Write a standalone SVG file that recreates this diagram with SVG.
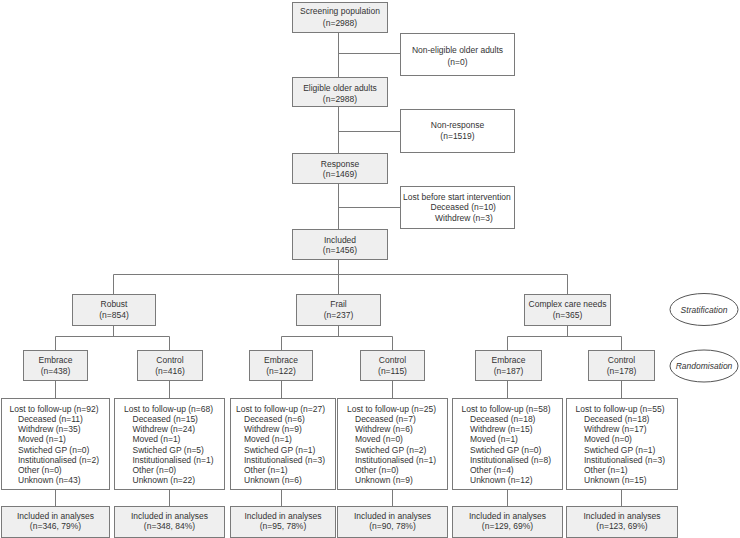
<svg xmlns="http://www.w3.org/2000/svg" width="740" height="538" viewBox="0 0 740 538">
<style>
.g{fill:#efefef;stroke:#7a7a7a;stroke-width:1}
.w{fill:#ffffff;stroke:#7a7a7a;stroke-width:1}
.c{fill:none;stroke:#7a7a7a;stroke-width:1}
.e{fill:#ffffff;stroke:#555555;stroke-width:1}
text{font-family:"Liberation Sans",Arial,sans-serif;font-size:8.5px;fill:#333333}
.m{text-anchor:middle}
.i{font-style:italic}
</style>
<rect width="740" height="538" fill="#ffffff"/>
<g id="connectors">
<path class="c" d="M338.5 32V294M338.5 53.5H400M338.5 131.5H400M338.5 207.5H400"/>
<path class="c" d="M113.5 274.5H567.5M113.5 274.5V294M567.5 274.5V294"/>
<path class="c" d="M113.5 325V336.5M55.5 336.5H169.5M55.5 336.5V350M169.5 336.5V350"/>
<path class="c" d="M338.5 325V336.5M281.5 336.5H392.5M281.5 336.5V350M392.5 336.5V350"/>
<path class="c" d="M567.5 325V336.5M507.5 336.5H621.5M507.5 336.5V350M621.5 336.5V350"/>
<path class="c" d="M55.5 380V398M169.5 380V398M281.5 380V398M392.5 380V398M507.5 380V398M621.5 380V398"/>
<path class="c" d="M55.5 489V506M169.5 489V506M281.5 489V506M392.5 489V506M507.5 489V506M621.5 489V506"/>
</g>
<g id="screening"><rect class="g" x="292.5" y="2.5" width="95" height="30"/><text class="m" x="340" y="14">Screening population</text><text class="m" x="340" y="25.5">(n=2988)</text></g>
<g id="noneligible"><rect class="w" x="400.5" y="33.5" width="114" height="42"/><text class="m" x="457.5" y="53">Non-eligible older adults</text><text class="m" x="457.5" y="64.5">(n=0)</text></g>
<g id="eligible"><rect class="g" x="292.5" y="77.5" width="95" height="29"/><text class="m" x="340" y="90.5">Eligible older adults</text><text class="m" x="340" y="101.5">(n=2988)</text></g>
<g id="nonresponse"><rect class="w" x="400.5" y="109.5" width="114" height="43"/><text class="m" x="457.5" y="128">Non-response</text><text class="m" x="457.5" y="139">(n=1519)</text></g>
<g id="response"><rect class="g" x="292.5" y="153.5" width="95" height="30"/><text class="m" x="340" y="166.5">Response</text><text class="m" x="340" y="176.5">(n=1469)</text></g>
<g id="lostbefore"><rect class="w" x="400.5" y="186.5" width="114" height="42"/><text x="403" y="199.5">Lost before start intervention</text><text x="430.5" y="210">Deceased (n=10)</text><text x="435" y="220.5">Withdrew (n=3)</text></g>
<g id="included"><rect class="g" x="292.5" y="229.5" width="95" height="30"/><text class="m" x="340" y="242.5">Included</text><text class="m" x="340" y="253">(n=1456)</text></g>
<g id="robust"><rect class="g" x="72.5" y="294.5" width="83" height="31"/><text class="m" x="114" y="306.5">Robust</text><text class="m" x="114" y="317.5">(n=854)</text></g>
<g id="frail"><rect class="g" x="296.5" y="294.5" width="84" height="31"/><text class="m" x="338.5" y="306.5">Frail</text><text class="m" x="338.5" y="317.5">(n=237)</text></g>
<g id="complex"><rect class="g" x="524.5" y="294.5" width="86" height="31"/><text class="m" x="567.5" y="307">Complex care needs</text><text class="m" x="567.5" y="318">(n=365)</text></g>
<g id="stratification"><ellipse class="e" cx="704" cy="309.5" rx="34" ry="16"/><text class="m i" x="704" y="312.5">Stratification</text></g>
<g id="randomisation"><ellipse class="e" cx="704" cy="366" rx="34" ry="16"/><text class="m i" x="704" y="369">Randomisation</text></g>
<g id="robust-embrace"><rect class="g" x="23.5" y="350.5" width="64" height="30"/><text class="m" x="55.5" y="363">Embrace</text><text class="m" x="55.5" y="373.5">(n=438)</text></g>
<g id="robust-control"><rect class="g" x="137.5" y="350.5" width="65" height="30"/><text class="m" x="170" y="363">Control</text><text class="m" x="170" y="373.5">(n=416)</text></g>
<g id="frail-embrace"><rect class="g" x="249.5" y="350.5" width="63" height="30"/><text class="m" x="281" y="363">Embrace</text><text class="m" x="281" y="373.5">(n=122)</text></g>
<g id="frail-control"><rect class="g" x="360.5" y="350.5" width="64" height="30"/><text class="m" x="392.5" y="363">Control</text><text class="m" x="392.5" y="373.5">(n=115)</text></g>
<g id="complex-embrace"><rect class="g" x="475.5" y="350.5" width="66" height="30"/><text class="m" x="508.5" y="363">Embrace</text><text class="m" x="508.5" y="373.5">(n=187)</text></g>
<g id="complex-control"><rect class="g" x="588.5" y="350.5" width="66" height="30"/><text class="m" x="621.5" y="363">Control</text><text class="m" x="621.5" y="373.5">(n=178)</text></g>
<g id="lost-robust-embrace"><rect class="w" x="1.5" y="398.5" width="108" height="91"/>
<text x="9.5" y="411.5">Lost to follow-up (n=92)</text><text x="18" y="421.8">Deceased (n=11)</text><text x="18" y="432">Withdrew (n=35)</text><text x="18" y="442.3">Moved (n=1)</text><text x="18" y="452.5">Swtiched GP (n=0)</text><text x="18" y="462.8">Institutionalised (n=2)</text><text x="18" y="473">Other (n=0)</text><text x="18" y="483.3">Unknown (n=43)</text></g>
<g id="lost-robust-control"><rect class="w" x="114.5" y="398.5" width="110" height="91"/>
<text x="124" y="411.5">Lost to follow-up (n=68)</text><text x="132.5" y="421.8">Deceased (n=15)</text><text x="132.5" y="432">Withdrew (n=24)</text><text x="132.5" y="442.3">Moved (n=1)</text><text x="132.5" y="452.5">Swtiched GP (n=5)</text><text x="132.5" y="462.8">Institutionalised (n=1)</text><text x="132.5" y="473">Other (n=0)</text><text x="132.5" y="483.3">Unknown (n=22)</text></g>
<g id="lost-frail-embrace"><rect class="w" x="230.5" y="398.5" width="105" height="91"/>
<text x="236" y="411.5">Lost to follow-up (n=27)</text><text x="244" y="421.8">Deceased (n=6)</text><text x="244" y="432">Withdrew (n=9)</text><text x="244" y="442.3">Moved (n=1)</text><text x="244" y="452.5">Swtiched GP (n=1)</text><text x="244" y="462.8">Institutionalised (n=3)</text><text x="244" y="473">Other (n=1)</text><text x="244" y="483.3">Unknown (n=6)</text></g>
<g id="lost-frail-control"><rect class="w" x="337.5" y="398.5" width="110" height="91"/>
<text x="347" y="411.5">Lost to follow-up (n=25)</text><text x="355" y="421.8">Deceased (n=7)</text><text x="355" y="432">Withdrew (n=6)</text><text x="355" y="442.3">Moved (n=0)</text><text x="355" y="452.5">Swtiched GP (n=2)</text><text x="355" y="462.8">Institutionalised (n=1)</text><text x="355" y="473">Other (n=0)</text><text x="355" y="483.3">Unknown (n=9)</text></g>
<g id="lost-complex-embrace"><rect class="w" x="452.5" y="398.5" width="110" height="91"/>
<text x="461.5" y="411.5">Lost to follow-up (n=58)</text><text x="470" y="421.8">Deceased (n=18)</text><text x="470" y="432">Withdrew (n=15)</text><text x="470" y="442.3">Moved (n=1)</text><text x="470" y="452.5">Swtiched GP (n=0)</text><text x="470" y="462.8">Institutionalised (n=8)</text><text x="470" y="473">Other (n=4)</text><text x="470" y="483.3">Unknown (n=12)</text></g>
<g id="lost-complex-control"><rect class="w" x="566.5" y="398.5" width="111" height="91"/>
<text x="575.5" y="411.5">Lost to follow-up (n=55)</text><text x="584" y="421.8">Deceased (n=18)</text><text x="584" y="432">Withdrew (n=17)</text><text x="584" y="442.3">Moved (n=0)</text><text x="584" y="452.5">Swtiched GP (n=1)</text><text x="584" y="462.8">Institutionalised (n=3)</text><text x="584" y="473">Other (n=1)</text><text x="584" y="483.3">Unknown (n=15)</text></g>
<g id="analysed-robust-embrace"><rect class="g" x="1.5" y="506.5" width="108" height="31"/><text class="m" x="55.5" y="519">Included in analyses</text><text class="m" x="55.5" y="529">(n=346, 79%)</text></g>
<g id="analysed-robust-control"><rect class="g" x="114.5" y="506.5" width="110" height="31"/><text class="m" x="169.5" y="519">Included in analyses</text><text class="m" x="169.5" y="529">(n=348, 84%)</text></g>
<g id="analysed-frail-embrace"><rect class="g" x="230.5" y="506.5" width="105" height="31"/><text class="m" x="283" y="519">Included in analyses</text><text class="m" x="283" y="529">(n=95, 78%)</text></g>
<g id="analysed-frail-control"><rect class="g" x="337.5" y="506.5" width="110" height="31"/><text class="m" x="392.5" y="519">Included in analyses</text><text class="m" x="392.5" y="529">(n=90, 78%)</text></g>
<g id="analysed-complex-embrace"><rect class="g" x="452.5" y="506.5" width="110" height="31"/><text class="m" x="507.5" y="519">Included in analyses</text><text class="m" x="507.5" y="529">(n=129, 69%)</text></g>
<g id="analysed-complex-control"><rect class="g" x="566.5" y="506.5" width="111" height="31"/><text class="m" x="622" y="519">Included in analyses</text><text class="m" x="622" y="529">(n=123, 69%)</text></g>
</svg>
